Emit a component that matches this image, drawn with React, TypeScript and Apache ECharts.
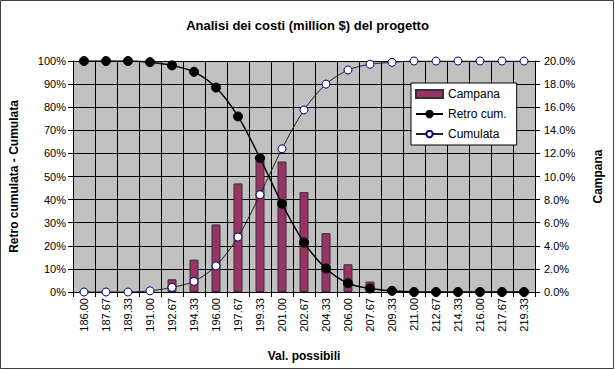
import React, { useEffect, useRef } from "react";
import * as echarts from "echarts";

const categories = [
  "186.00", "187.67", "189.33", "191.00", "192.67", "194.33", "196.00",
  "197.67", "199.33", "201.00", "202.67", "204.33", "206.00", "207.67",
  "209.33", "211.00", "212.67", "214.33", "216.00", "217.67", "219.33",
];
// Campana (right axis, %)
const campana = [0, 0, 0, 0, 1.1, 2.8, 5.85, 9.4, 11.7, 11.3, 8.65, 5.1, 2.4, 0.9, 0, 0, 0, 0, 0, 0, 0];
// Retro cum. (left axis, %)
const retroCum = [100, 100, 100, 99.5, 98.1, 95.3, 88.5, 76, 58, 38.2, 21.4, 10.2, 3.8, 1.5, 0.5, 0, 0, 0, 0, 0, 0];
// Cumulata (left axis, %)
const cumulata = [0, 0, 0, 0.5, 2, 4.6, 11.3, 23.8, 42.1, 62, 78.8, 90, 96.1, 98.6, 99.4, 100, 100, 100, 100, 100, 100];

const FONT = "'Liberation Sans', Arial, sans-serif";

export default function App() {
  const ref = useRef<HTMLDivElement>(null);
  useEffect(() => {
    if (!ref.current) return;
    const chart = echarts.init(ref.current, null, { renderer: "svg" });
    chart.setOption({
      animation: false,
      backgroundColor: "#ffffff",
      textStyle: { fontFamily: FONT, color: "#000" },
      title: {
        text: "Analisi dei costi (million $) del progetto",
        left: "center",
        top: 14,
        textStyle: { fontFamily: FONT, fontSize: 13, fontWeight: "bold", color: "#000" },
      },
      graphic: [
        {
          type: "rect",
          shape: { x: 0.5, y: 0.5, width: 613, height: 368 },
          style: { fill: "none", stroke: "#404040", lineWidth: 1 },
          silent: true,
        },
      ],
      legend: {
        orient: "vertical",
        left: 411,
        top: 83,
        backgroundColor: "#ffffff",
        borderColor: "#000",
        borderWidth: 1,
        borderRadius: 0,
        padding: [5, 10, 5, 4],
        itemWidth: 27,
        itemHeight: 8,
        itemGap: 8,
        textStyle: { fontFamily: FONT, fontSize: 12, color: "#000" },
        data: [
          { name: "Campana", icon: "rect" },
          { name: "Retro cum." },
          { name: "Cumulata" },
        ],
      },
      grid: {
        left: 67,
        right: 80,
        top: 61,
        bottom: 78,
        show: true,
        backgroundColor: "#c0c0c0",
        borderWidth: 0,
        containLabel: false,
      },
      xAxis: {
        type: "category",
        data: categories,
        boundaryGap: true,
        name: "Val. possibili",
        nameLocation: "middle",
        nameGap: 58,
        nameTextStyle: { fontFamily: FONT, fontSize: 12, fontWeight: "bold", color: "#000" },
        axisLine: { show: true, lineStyle: { color: "#000", width: 1 } },
        axisTick: { show: true, length: 5, lineStyle: { color: "#000" } },
        axisLabel: {
          interval: 0,
          rotate: 90,
          margin: 6,
          fontFamily: FONT,
          fontSize: 11,
          color: "#000",
        },
        splitLine: { show: true, interval: 0, lineStyle: { color: "#000", width: 1 } },
      },
      yAxis: [
        {
          type: "value",
          min: 0,
          max: 100,
          interval: 10,
          position: "left",
          name: "Retro cumulata - Cumulata",
          nameLocation: "middle",
          nameGap: 53,
          nameTextStyle: { fontFamily: FONT, fontSize: 12, fontWeight: "bold", color: "#000" },
          axisLine: { show: true, lineStyle: { color: "#000", width: 1 } },
          axisTick: { show: true, length: 5, lineStyle: { color: "#000" } },
          axisLabel: {
            formatter: (v: number) => `${v}%`,
            margin: 7,
            fontFamily: FONT,
            fontSize: 11,
            color: "#000",
          },
          splitLine: { show: true, lineStyle: { color: "#000", width: 1 } },
        },
        {
          type: "value",
          min: 0,
          max: 20,
          interval: 2,
          position: "right",
          name: "Campana",
          nameLocation: "middle",
          nameGap: 57,
          nameRotate: 90,
          nameTextStyle: { fontFamily: FONT, fontSize: 12, fontWeight: "bold", color: "#000" },
          axisLine: { show: true, lineStyle: { color: "#000", width: 1 } },
          axisTick: { show: true, length: 5, lineStyle: { color: "#000" } },
          axisLabel: {
            formatter: (v: number) => `${v.toFixed(1)}%`,
            margin: 9,
            fontFamily: FONT,
            fontSize: 11,
            color: "#000",
          },
          splitLine: { show: false },
        },
      ],
      series: [
        {
          name: "Campana",
          type: "bar",
          yAxisIndex: 1,
          data: campana,
          barWidth: 9,
          itemStyle: { color: "#993366", borderColor: "#333333", borderWidth: 1 },
          z: 2,
        },
        {
          name: "Retro cum.",
          type: "line",
          yAxisIndex: 0,
          data: retroCum,
          smooth: 0.3,
          symbol: "circle",
          symbolSize: 9,
          showAllSymbol: true,
          lineStyle: { color: "#000", width: 1.5 },
          itemStyle: { color: "#000", borderColor: "#000", borderWidth: 1 },
          z: 4,
        },
        {
          name: "Cumulata",
          type: "line",
          yAxisIndex: 0,
          data: cumulata,
          smooth: 0.3,
          symbol: "circle",
          symbolSize: 8,
          showAllSymbol: true,
          lineStyle: { color: "#222", width: 1 },
          itemStyle: { color: "#ffffff", borderColor: "#000080", borderWidth: 1 },
          z: 3,
        },
      ],
    });
    return () => chart.dispose();
  }, []);
  return (
    <div
      ref={ref}
      style={{ position: "fixed", left: 0, top: 0, width: 615, height: 370 }}
    />
  );
}
